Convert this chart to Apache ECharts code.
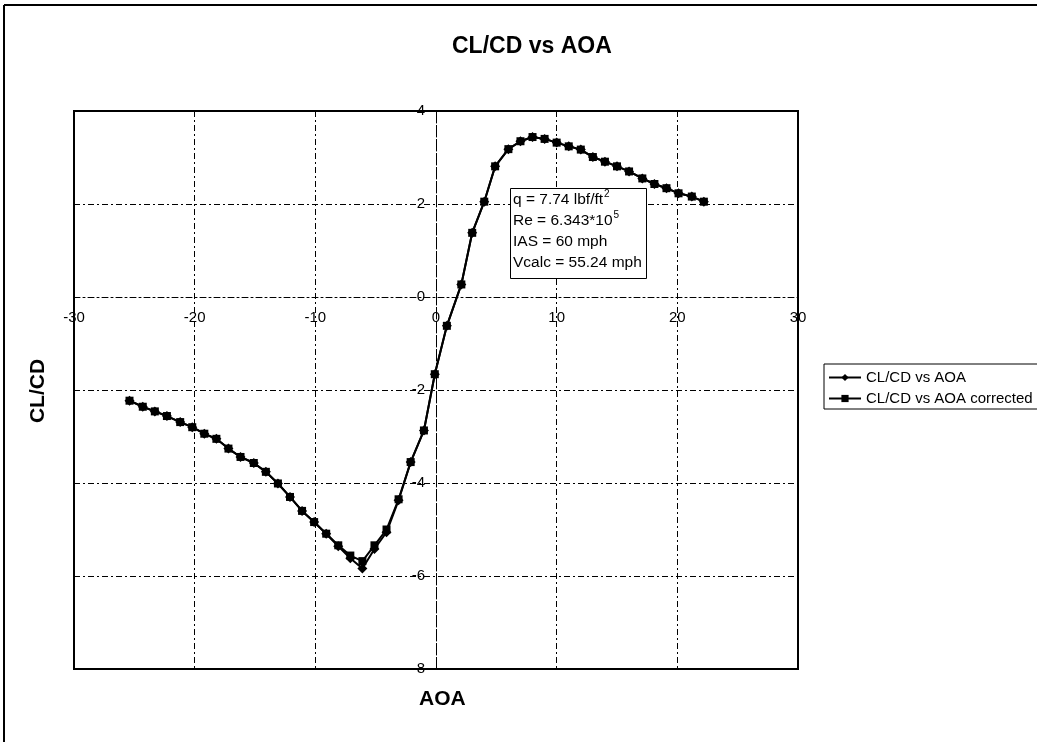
<!DOCTYPE html>
<html><head><meta charset="utf-8">
<script src="https://cdn.jsdelivr.net/npm/echarts@6/dist/echarts.min.js"></script>
<style>html,body{margin:0;padding:0;background:#fff}#c{width:1037px;height:742px}</style>
</head><body><div id="c"></div>
<script>
var aoa = [-25.4, -24.3, -23.3, -22.3, -21.2, -20.2, -19.2, -18.2, -17.2, -16.2, -15.1, -14.1, -13.1, -12.1, -11.1, -10.1, -9.1, -8.1, -7.1, -6.1, -5.1, -4.1, -3.1, -2.1, -1.0, -0.1, 0.9, 2.1, 3.0, 4.0, 4.9, 6.0, 7.0, 8.0, 9.0, 10.0, 11.0, 12.0, 13.0, 14.0, 15.0, 16.0, 17.1, 18.1, 19.1, 20.1, 21.2, 22.2];
var clcd = [-2.23, -2.36, -2.46, -2.56, -2.69, -2.80, -2.94, -3.05, -3.26, -3.44, -3.57, -3.76, -4.01, -4.30, -4.60, -4.84, -5.09, -5.36, -5.62, -5.84, -5.42, -5.06, -4.37, -3.55, -2.87, -1.66, -0.62, 0.27, 1.38, 2.05, 2.81, 3.18, 3.35, 3.44, 3.40, 3.32, 3.24, 3.17, 3.01, 2.91, 2.81, 2.70, 2.55, 2.43, 2.34, 2.23, 2.16, 2.05];
var clcdCorrected = [-2.23, -2.36, -2.46, -2.56, -2.69, -2.80, -2.94, -3.05, -3.26, -3.44, -3.57, -3.76, -4.01, -4.30, -4.60, -4.84, -5.09, -5.34, -5.56, -5.68, -5.34, -5.00, -4.35, -3.55, -2.87, -1.66, -0.62, 0.27, 1.38, 2.05, 2.81, 3.18, 3.35, 3.44, 3.40, 3.32, 3.24, 3.17, 3.01, 2.91, 2.81, 2.70, 2.55, 2.43, 2.34, 2.23, 2.16, 2.05];
var xRange = [-30, 30], xStep = 10;
var yRange = [-8, 4], yStep = 2;
var seriesNames = ['CL/CD vs AOA', 'CL/CD vs AOA corrected'];
var noteLines = ['q = 7.74 lbf/ft{s|2}', 'Re = 6.343*10{s|5}', 'IAS = 60 mph', 'Vcalc = 55.24 mph'];

function pairs(xs, ys){ return xs.map(function(x,i){ return [x, ys[i]]; }); }
var FONT = 'Liberation Sans, Arial, sans-serif';
var W = 1037, H = 742;
var G = {left: 74, right: 239, top: 111, bottom: 73};
var plotW = W - G.left - G.right, plotH = H - G.top - G.bottom;
// shift axes so they cross at the origin (Excel style)
var xAxisOffset = -plotH * (0 - yRange[0]) / (yRange[1] - yRange[0]);
var yAxisOffset = -plotW * (0 - xRange[0]) / (xRange[1] - xRange[0]);
var dash = [6,3,2,3];
var chart = echarts.init(document.getElementById('c'));
chart.setOption({
  backgroundColor: '#fff',
  animation: false,
  title: [
    {text: 'CL/CD vs AOA', left: 447, top: 30, textStyle: {fontFamily: FONT, fontSize: 23, fontWeight: 'bold', color: '#000'}},
    {text: 'AOA', left: 414, top: 684, textStyle: {fontFamily: FONT, fontSize: 21, fontWeight: 'bold', color: '#000'}}
  ],
  grid: {left: G.left, right: G.right, top: G.top, bottom: G.bottom, show: true, borderColor: '#000', borderWidth: 2, backgroundColor: 'transparent'},
  xAxis: {
    type: 'value', min: xRange[0], max: xRange[1], interval: xStep, offset: xAxisOffset,
    axisLine: {show: true, onZero: false, lineStyle: {color: '#000', width: 1, type: dash}},
    axisTick: {show: false},
    axisLabel: {color: '#000', fontFamily: FONT, fontSize: 15, margin: 13},
    splitLine: {show: true, lineStyle: {color: '#000', width: 1, type: dash}}
  },
  yAxis: {
    type: 'value', min: yRange[0], max: yRange[1], interval: yStep, offset: yAxisOffset,
    axisLine: {show: true, onZero: false, lineStyle: {color: '#000', width: 1, type: dash}},
    axisTick: {show: false},
    axisLabel: {color: '#000', fontFamily: FONT, fontSize: 15, margin: 11, verticalAlign: 'middle', padding: [0, 0, 9, 0]},
    splitLine: {show: true, lineStyle: {color: '#000', width: 1, type: dash}}
  },
  legend: {
    orient: 'vertical', left: 824, top: 364,
    borderColor: '#000', borderWidth: 1, backgroundColor: '#fff', borderRadius: 0,
    padding: [6, 6, 3, 4], itemGap: 6, itemWidth: 32, itemHeight: 9,
    textStyle: {fontFamily: FONT, fontSize: 15, color: '#000'},
    data: seriesNames
  },
  series: [
    {name: seriesNames[0], type: 'line', data: pairs(aoa, clcd), symbol: 'diamond', symbolSize: 10,
     itemStyle: {color: '#000'}, lineStyle: {color: '#000', width: 2}, z: 3},
    {name: seriesNames[1], type: 'line', data: pairs(aoa, clcdCorrected), symbol: 'rect', symbolSize: 8,
     itemStyle: {color: '#000'}, lineStyle: {color: '#000', width: 2}, z: 4}
  ],
  graphic: [
    {type: 'line', shape: {x1: 4, y1: 5, x2: 4, y2: 742}, style: {stroke: '#000', lineWidth: 2}},
    {type: 'line', shape: {x1: 4, y1: 5, x2: 1037, y2: 5}, style: {stroke: '#000', lineWidth: 2}},
    {type: 'text', x: 38, y: 391, rotation: Math.PI/2,
     style: {text: 'CL/CD', font: 'bold 21px ' + FONT, fontFamily: FONT, fontSize: 21, fontWeight: 'bold', fill: '#000',
       align: 'center', verticalAlign: 'middle', textAlign: 'center', textVerticalAlign: 'middle'}},
    {type: 'rect', left: 510, top: 188, shape: {width: 136, height: 90}, style: {fill: '#fff', stroke: '#000', lineWidth: 1}, z: 10},
    {type: 'text', left: 513, top: 189, z: 11,
     style: {text: noteLines.join('\n'), fontFamily: FONT, fontSize: 15.5, lineHeight: 21, fill: '#000',
       rich: {s: {fontSize: 10, verticalAlign: 'top', fontFamily: FONT, fill: '#000', lineHeight: 21, padding: [0,0,0,1]}}}}
  ]
});
</script></body></html>
